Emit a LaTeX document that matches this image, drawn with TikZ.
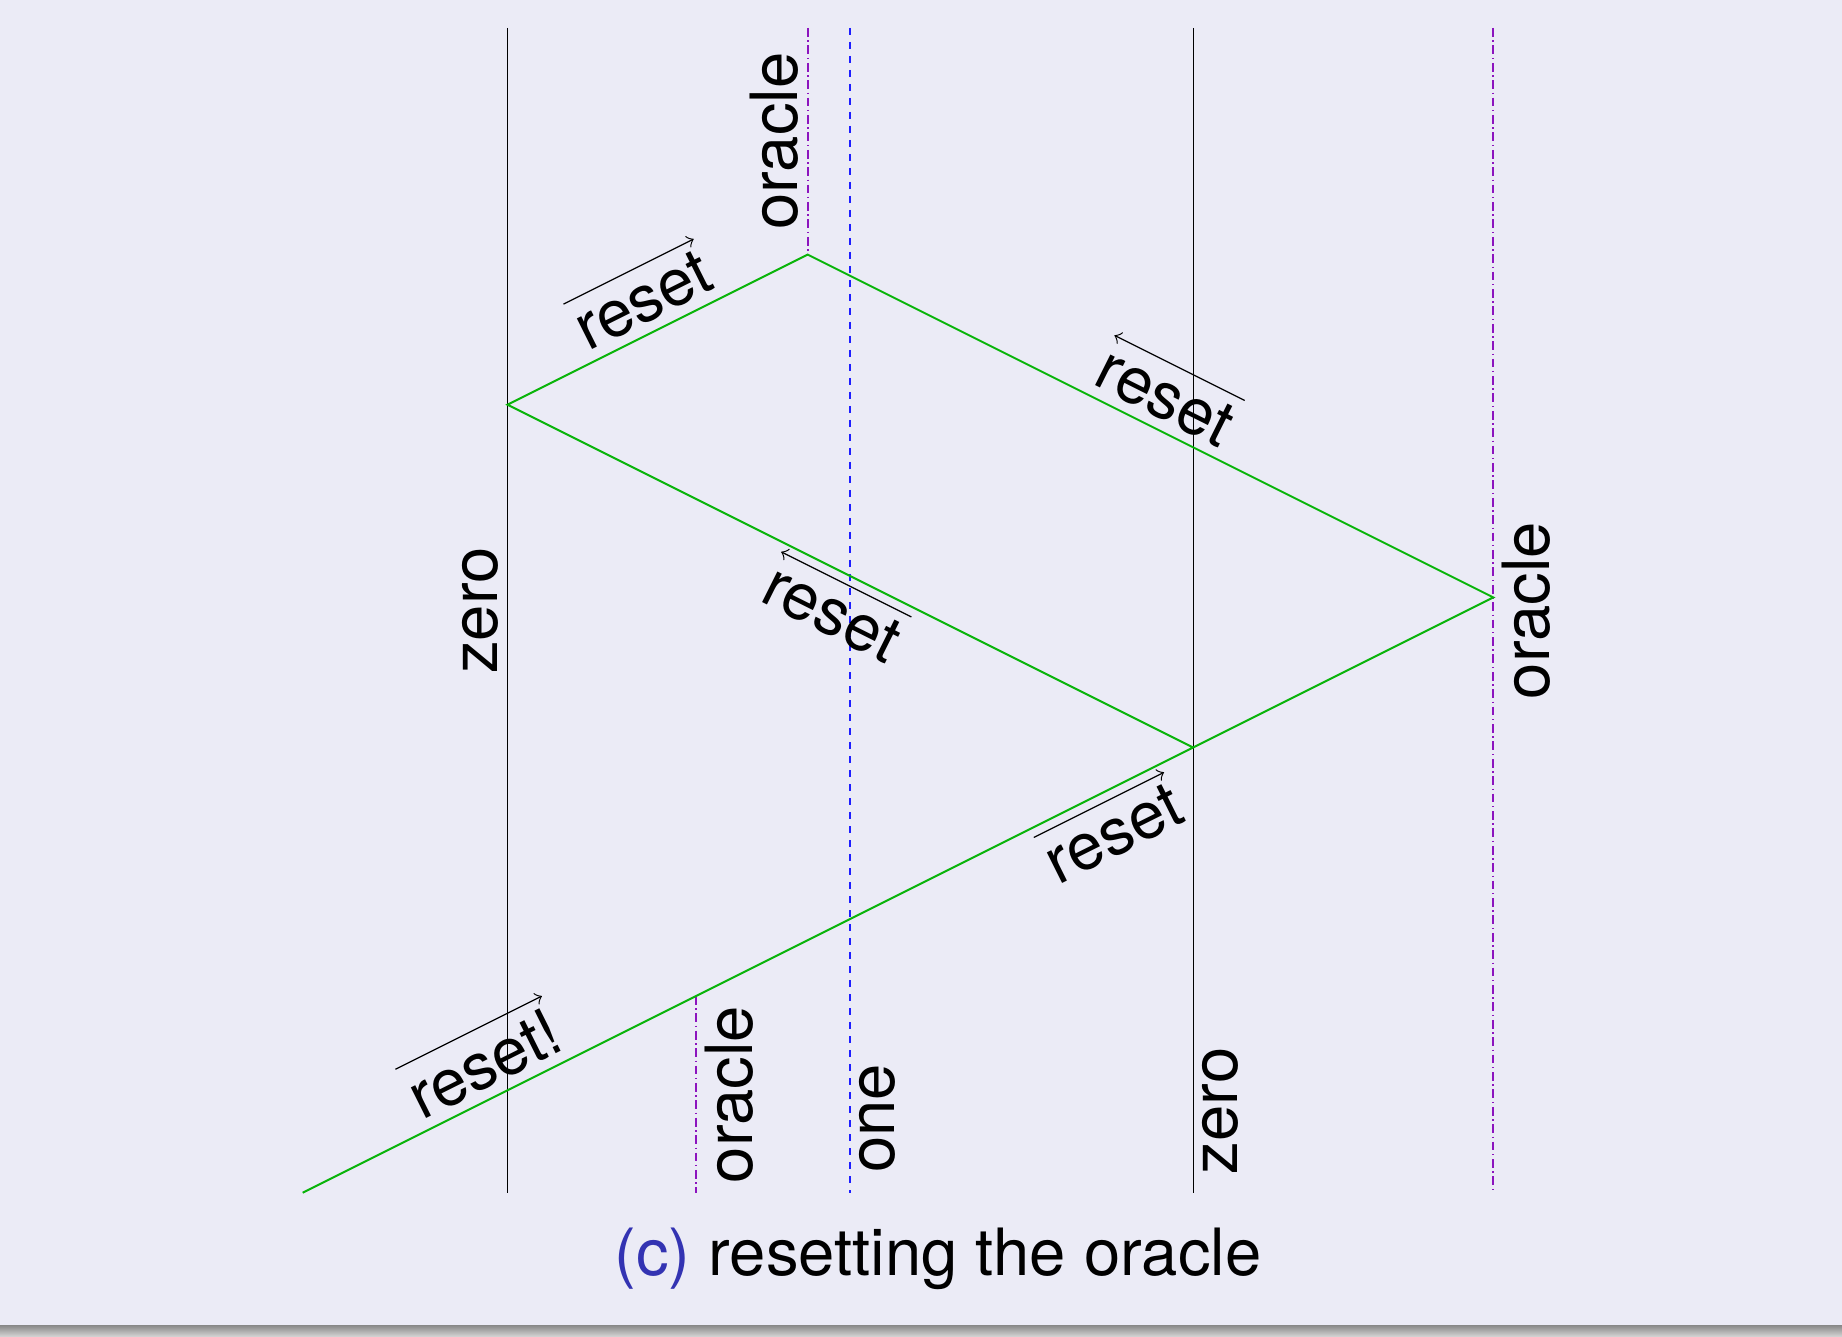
\documentclass[tikz,border=0pt]{standalone}
\usepackage{fontspec}
\setmainfont{TeX Gyre Heros}
\usetikzlibrary{calc}
\definecolor{pagebg}{RGB}{235,235,246}
\definecolor{worldgreen}{RGB}{10,180,10}
\definecolor{oraclecol}{RGB}{140,20,190}
\definecolor{onecol}{RGB}{30,30,255}
\definecolor{capblue}{RGB}{51,51,178}
\tikzset{
  zeroline/.style={black, line width=0.35pt},
  oracleline/.style={oraclecol, line width=0.45pt, dash pattern=on 2.2pt off 0.9pt on 0.35pt off 0.9pt},
  oneline/.style={onecol, line width=0.45pt, dash pattern=on 1.8pt off 1.7pt},
  signal/.style={worldgreen, line width=0.5pt},
  vlab/.style={rotate=90, inner sep=2pt, text=black},
  rlab/.style={sloped, inner xsep=0pt, inner ysep=2.3pt, text=black},
  dirarrow/.style={black, line width=0.3pt, ->},
}
\begin{document}
\begin{tikzpicture}[x=0.25pt, y=-0.25pt, font=\fontsize{16.3}{19}\selectfont]
  % page background and bottom shadow
  \fill[pagebg] (0,0) rectangle (1842,1337);
  \useasboundingbox (0,0) rectangle (1842,1337);
  \shade[top color={rgb,255:red,135;green,135;blue,135}, bottom color={rgb,255:red,215;green,215;blue,215}] (0,1325) rectangle (1842,1337);

  % world-line end points
  \coordinate (zlT) at (507.5,28);   \coordinate (zlB) at (507.5,1193);
  \coordinate (otT) at (807.7,28);
  \coordinate (oneT) at (850.3,28);  \coordinate (oneB) at (850.3,1193);
  \coordinate (zrT) at (1193.3,28);  \coordinate (zrB) at (1193.3,1193);
  \coordinate (orT) at (1493.3,28);  \coordinate (orB) at (1493.3,1193);
  \coordinate (obB) at (696.3,1193);

  % events on the reset signal
  \coordinate (S) at (302.7,1192.7);
  \coordinate (O) at (696.3,995.9);
  \coordinate (R) at (1493.3,597.4);
  \coordinate (T) at (807.7,254.6);
  \coordinate (L) at (507.5,404.7);
  \coordinate (E) at (1193.3,747.6);

  % vertical world lines
  \draw[zeroline] (zlT) -- (zlB) node[midway, vlab, anchor=south] (lzero) {zero};
  \draw[oracleline] (otT) -- (T) node[midway, vlab, anchor=south] (toracle) {oracle};
  \draw[oneline] (oneT) -- (oneB);
  \draw[zeroline] (zrT) -- (zrB);
  \draw[oracleline] (orT) -- (orB) node[midway, vlab, anchor=north] (roracle) {oracle};
  \draw[oracleline] (O) -- (obB) node[midway, vlab, anchor=north] (boracle) {oracle};
  \node[vlab, anchor=north] (bone) at (850.3,1118.5) {one};
  \node[vlab, anchor=north] (bzero) at (1193.3,1111) {zero};

  % the bouncing reset signal
  \draw[signal] (S)
    -- node[rlab, above] (r5) {reset!} (O)
    -- node[rlab, below=2.3pt] (r4) {reset} (R)
    -- node[rlab, above] (r2) {reset} (T)
    -- node[rlab, above] (r1) {reset} (L)
    -- node[rlab, below=2.3pt] (r3) {reset} (E);

  % direction arrows over the labels
  \draw[dirarrow] (r5.north west) -- (r5.north east);
  \draw[dirarrow] (r4.north west) -- (r4.north east);
  \draw[dirarrow] (r2.north east) -- (r2.north west);
  \draw[dirarrow] (r1.north west) -- (r1.north east);
  \draw[dirarrow] (r3.north east) -- (r3.north west);

  % caption
  \node[anchor=base, inner sep=0pt] (cap) at (938,1275) {\textcolor{capblue}{(c)} resetting the oracle};
\end{tikzpicture}
\end{document}
